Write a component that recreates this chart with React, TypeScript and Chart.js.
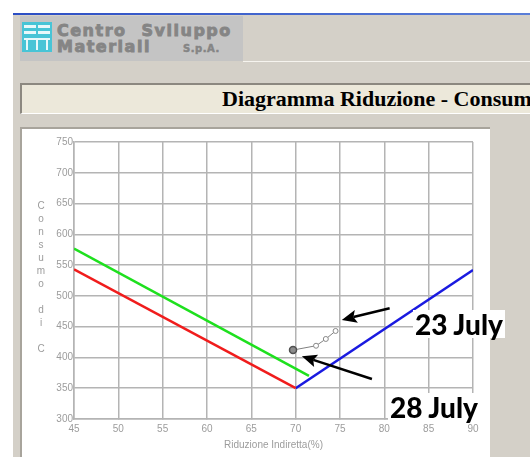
import React, { useEffect, useRef } from "react";
import { Chart, registerables } from "chart.js";

Chart.register(...registerables);

// ---- data ----
const xMin = 45;
const xMax = 90;
const xStep = 5;
const yMin = 300;
const yMax = 750;
const yStep = 50;

const redX = [45, 70];
const redY = [543, 350];
const greenX = [45, 71.5];
const greenY = [577, 370];
const blueX = [70, 90];
const blueY = [350, 542];
const measuredX = [69.7, 72.3, 73.4, 74.5];
const measuredY = [412, 419, 430, 443];

const arrowFromX = [80.6, 78.6];
const arrowFromY = [480, 365];
const arrowToX = [75.2, 70.7];
const arrowToY = [461, 402];

const dateLabels = ["23 July", "28 July"];
const xTitle = "Riduzione Indiretta(%)";
const yTitle = "Consumo di C";
const pageTitle = "Diagramma Riduzione - Consumo";
const logoLine1 = "Centro Sviluppo";
const logoLine2 = "Materiali";
const logoSuffix = "S.p.A.";

const toPoints = (xs: number[], ys: number[]) => xs.map((x, i) => ({ x, y: ys[i] }));

const arrowPlugin = {
  id: "arrows",
  afterDatasetsDraw(chart: any) {
    const { ctx, scales } = chart;
    const sx = scales.x;
    const sy = scales.y;
    ctx.save();
    ctx.strokeStyle = "#000";
    ctx.fillStyle = "#000";
    ctx.lineWidth = 2.5;
    for (let i = 0; i < arrowFromX.length; i++) {
      const x1 = sx.getPixelForValue(arrowFromX[i]);
      const y1 = sy.getPixelForValue(arrowFromY[i]);
      const x2 = sx.getPixelForValue(arrowToX[i]);
      const y2 = sy.getPixelForValue(arrowToY[i]);
      const ang = Math.atan2(y2 - y1, x2 - x1);
      const headLen = 15;
      const headW = 6.5;
      const bx = x2 - headLen * Math.cos(ang);
      const by = y2 - headLen * Math.sin(ang);
      ctx.beginPath();
      ctx.moveTo(x1, y1);
      ctx.lineTo(bx + 3 * Math.cos(ang), by + 3 * Math.sin(ang));
      ctx.stroke();
      ctx.beginPath();
      ctx.moveTo(x2, y2);
      ctx.lineTo(bx + headW * Math.sin(ang), by - headW * Math.cos(ang));
      ctx.lineTo(bx + 3 * Math.cos(ang), by + 3 * Math.sin(ang));
      ctx.lineTo(bx - headW * Math.sin(ang), by + headW * Math.cos(ang));
      ctx.closePath();
      ctx.fill();
    }
    ctx.restore();
  },
};

const tickColor = "#9c9c9c";
const gridColor = "#b4b4b4";
const tickFont = { family: "'Liberation Sans', Arial, sans-serif", size: 10 };

export default function App() {
  const ref = useRef<HTMLCanvasElement | null>(null);

  useEffect(() => {
    if (!ref.current) return;
    const chart = new Chart(ref.current, {
      type: "scatter",
      data: {
        datasets: [
          {
            data: toPoints(redX, redY),
            showLine: true,
            borderColor: "#f01c1c",
            borderWidth: 2.5,
            pointRadius: 0,
          },
          {
            data: toPoints(greenX, greenY),
            showLine: true,
            borderColor: "#1ee01e",
            borderWidth: 2.5,
            pointRadius: 0,
          },
          {
            data: toPoints(blueX, blueY),
            showLine: true,
            borderColor: "#1a1ae0",
            borderWidth: 2.5,
            pointRadius: 0,
          },
          {
            data: toPoints(measuredX, measuredY),
            showLine: true,
            borderColor: "#808080",
            borderWidth: 1,
            pointRadius: [3.5, 2.5, 2.5, 2.5],
            pointBackgroundColor: ["#8c8c8c", "#ffffff", "#ffffff", "#ffffff"],
            pointBorderColor: ["#505050", "#888888", "#888888", "#888888"],
            pointBorderWidth: [1.5, 1, 1, 1],
          },
        ],
      } as any,
      options: {
        animation: false,
        responsive: false,
        events: [],
        layout: { padding: { left: 0, right: 15, top: 12, bottom: 0 } },
        plugins: { legend: { display: false }, tooltip: { enabled: false } },
        scales: {
          x: {
            type: "linear",
            min: xMin,
            max: xMax,
            ticks: { stepSize: xStep, color: tickColor, font: tickFont, padding: 4, maxRotation: 0 },
            grid: { color: gridColor, lineWidth: 1.5, tickLength: 0 },
            border: { color: gridColor, width: 1.5 },
            title: {
              display: true,
              text: xTitle,
              color: tickColor,
              font: tickFont,
              padding: { top: 0, bottom: 6 },
            },
            afterFit: (s: any) => {
              s.height = 38;
            },
          },
          y: {
            type: "linear",
            min: yMin,
            max: yMax,
            ticks: { stepSize: yStep, color: tickColor, font: tickFont, padding: 1 },
            grid: { color: gridColor, lineWidth: 1.5, tickLength: 0 },
            border: { color: gridColor, width: 1.5 },
            afterFit: (s: any) => {
              s.width = 52;
            },
          },
        },
      } as any,
      plugins: [arrowPlugin],
    });
    return () => chart.destroy();
  }, []);

  const abs = (o: React.CSSProperties): React.CSSProperties => ({ position: "absolute", boxSizing: "border-box", ...o });

  const logoText: React.CSSProperties = {
    fontFamily: "'DejaVu Sans', sans-serif",
    fontWeight: 700,
    color: "#858585",
    WebkitTextStroke: "0.9px #858585",
    whiteSpace: "nowrap",
  } as any;

  const dateStyle: React.CSSProperties = {
    height: 28,
    lineHeight: "28px",
    padding: "0 2px",
    background: "#ffffff",
    fontFamily: "Lato, 'Open Sans', sans-serif",
    fontWeight: 900,
    fontSize: 28,
    color: "#000",
    whiteSpace: "nowrap",
  };

  return (
    <div style={{ position: "fixed", left: 0, top: 0, width: 530, height: 457, overflow: "hidden", background: "#ffffff" }}>
      <div style={abs({ left: 13, top: 15, width: 517, height: 442, background: "#d4d0c8" })} />
      <div style={abs({ left: 13, top: 13, width: 517, height: 2, background: "linear-gradient(90deg,#2c4ec4,#5a7ed8)" })} />
      <div style={abs({ left: 243, top: 61, width: 287, height: 1, background: "#f6f4ef" })} />
      {/* logo */}
      <div style={abs({ left: 20, top: 16, width: 223, height: 45, background: "#c4c4c4" })} />
      <div style={abs({ left: 22, top: 22, width: 30, height: 30, background: "#48c4d6" })}>
        <div style={abs({ left: 2, top: 3, width: 12, height: 3, background: "#e8f8fa" })} />
        <div style={abs({ left: 2, top: 9, width: 12, height: 3, background: "#e8f8fa" })} />
        <div style={abs({ left: 16, top: 3, width: 12, height: 3, background: "#e8f8fa" })} />
        <div style={abs({ left: 16, top: 9, width: 12, height: 3, background: "#e8f8fa" })} />
        <div style={abs({ left: 2, top: 16, width: 26, height: 2, background: "#e8f8fa" })} />
        <div style={abs({ left: 4, top: 18, width: 2, height: 10, background: "#e8f8fa" })} />
        <div style={abs({ left: 14, top: 18, width: 2, height: 10, background: "#e8f8fa" })} />
        <div style={abs({ left: 24, top: 18, width: 2, height: 10, background: "#e8f8fa" })} />
      </div>
      <div style={abs({ left: 57, top: 22.5, height: 16, lineHeight: "16px", fontSize: 16, letterSpacing: 1.5, wordSpacing: 8, ...logoText })}>
        {logoLine1}
      </div>
      <div style={abs({ left: 57, top: 38.5, height: 16, lineHeight: "16px", fontSize: 16, letterSpacing: 1.5, ...logoText })}>
        {logoLine2}
      </div>
      <div
        style={abs({ left: 183, top: 43.5, height: 10, lineHeight: "10px", fontSize: 10, letterSpacing: 0.5, ...logoText, WebkitTextStroke: "0.5px #858585" } as any)}
      >
        {logoSuffix}
      </div>
      {/* title bar */}
      <div
        style={abs({
          left: 20,
          top: 83,
          width: 530,
          height: 31,
          background: "#ece8da",
          borderTop: "2px solid #8c8880",
          borderLeft: "2px solid #8c8880",
          borderBottom: "1px solid #ffffff",
        })}
      />
      <div
        style={abs({
          left: 222,
          top: 87.6,
          height: 22,
          lineHeight: "22px",
          fontFamily: "'Liberation Serif', 'Times New Roman', serif",
          fontWeight: 700,
          fontSize: 22,
          color: "#000",
          whiteSpace: "nowrap",
        })}
      >
        {pageTitle}
      </div>
      {/* chart panel */}
      <div
        style={abs({
          left: 20,
          top: 127,
          width: 470,
          height: 340,
          background: "#ffffff",
          borderTop: "2px solid #a8a49c",
          borderLeft: "2px solid #a8a49c",
        })}
      />
      <canvas ref={ref} width={466} height={327} style={{ position: "absolute", left: 22, top: 130, width: 466, height: 327 }} />
      <div style={abs({ left: 35, top: 198.5, width: 12, textAlign: "center" })}>
        {yTitle.split("").map((c, i) => (
          <div
            key={i}
            style={{
              height: 13,
              lineHeight: "13px",
              fontFamily: "'Liberation Sans', Arial, sans-serif",
              fontSize: 10,
              color: tickColor,
            }}
          >
            {c === " " ? "\u00a0" : c}
          </div>
        ))}
      </div>
      {/* date annotations */}
      <div style={abs({ left: 413, top: 310, ...dateStyle })}>{dateLabels[0]}</div>
      <div style={abs({ left: 388, top: 393, ...dateStyle })}>{dateLabels[1]}</div>
    </div>
  );
}
